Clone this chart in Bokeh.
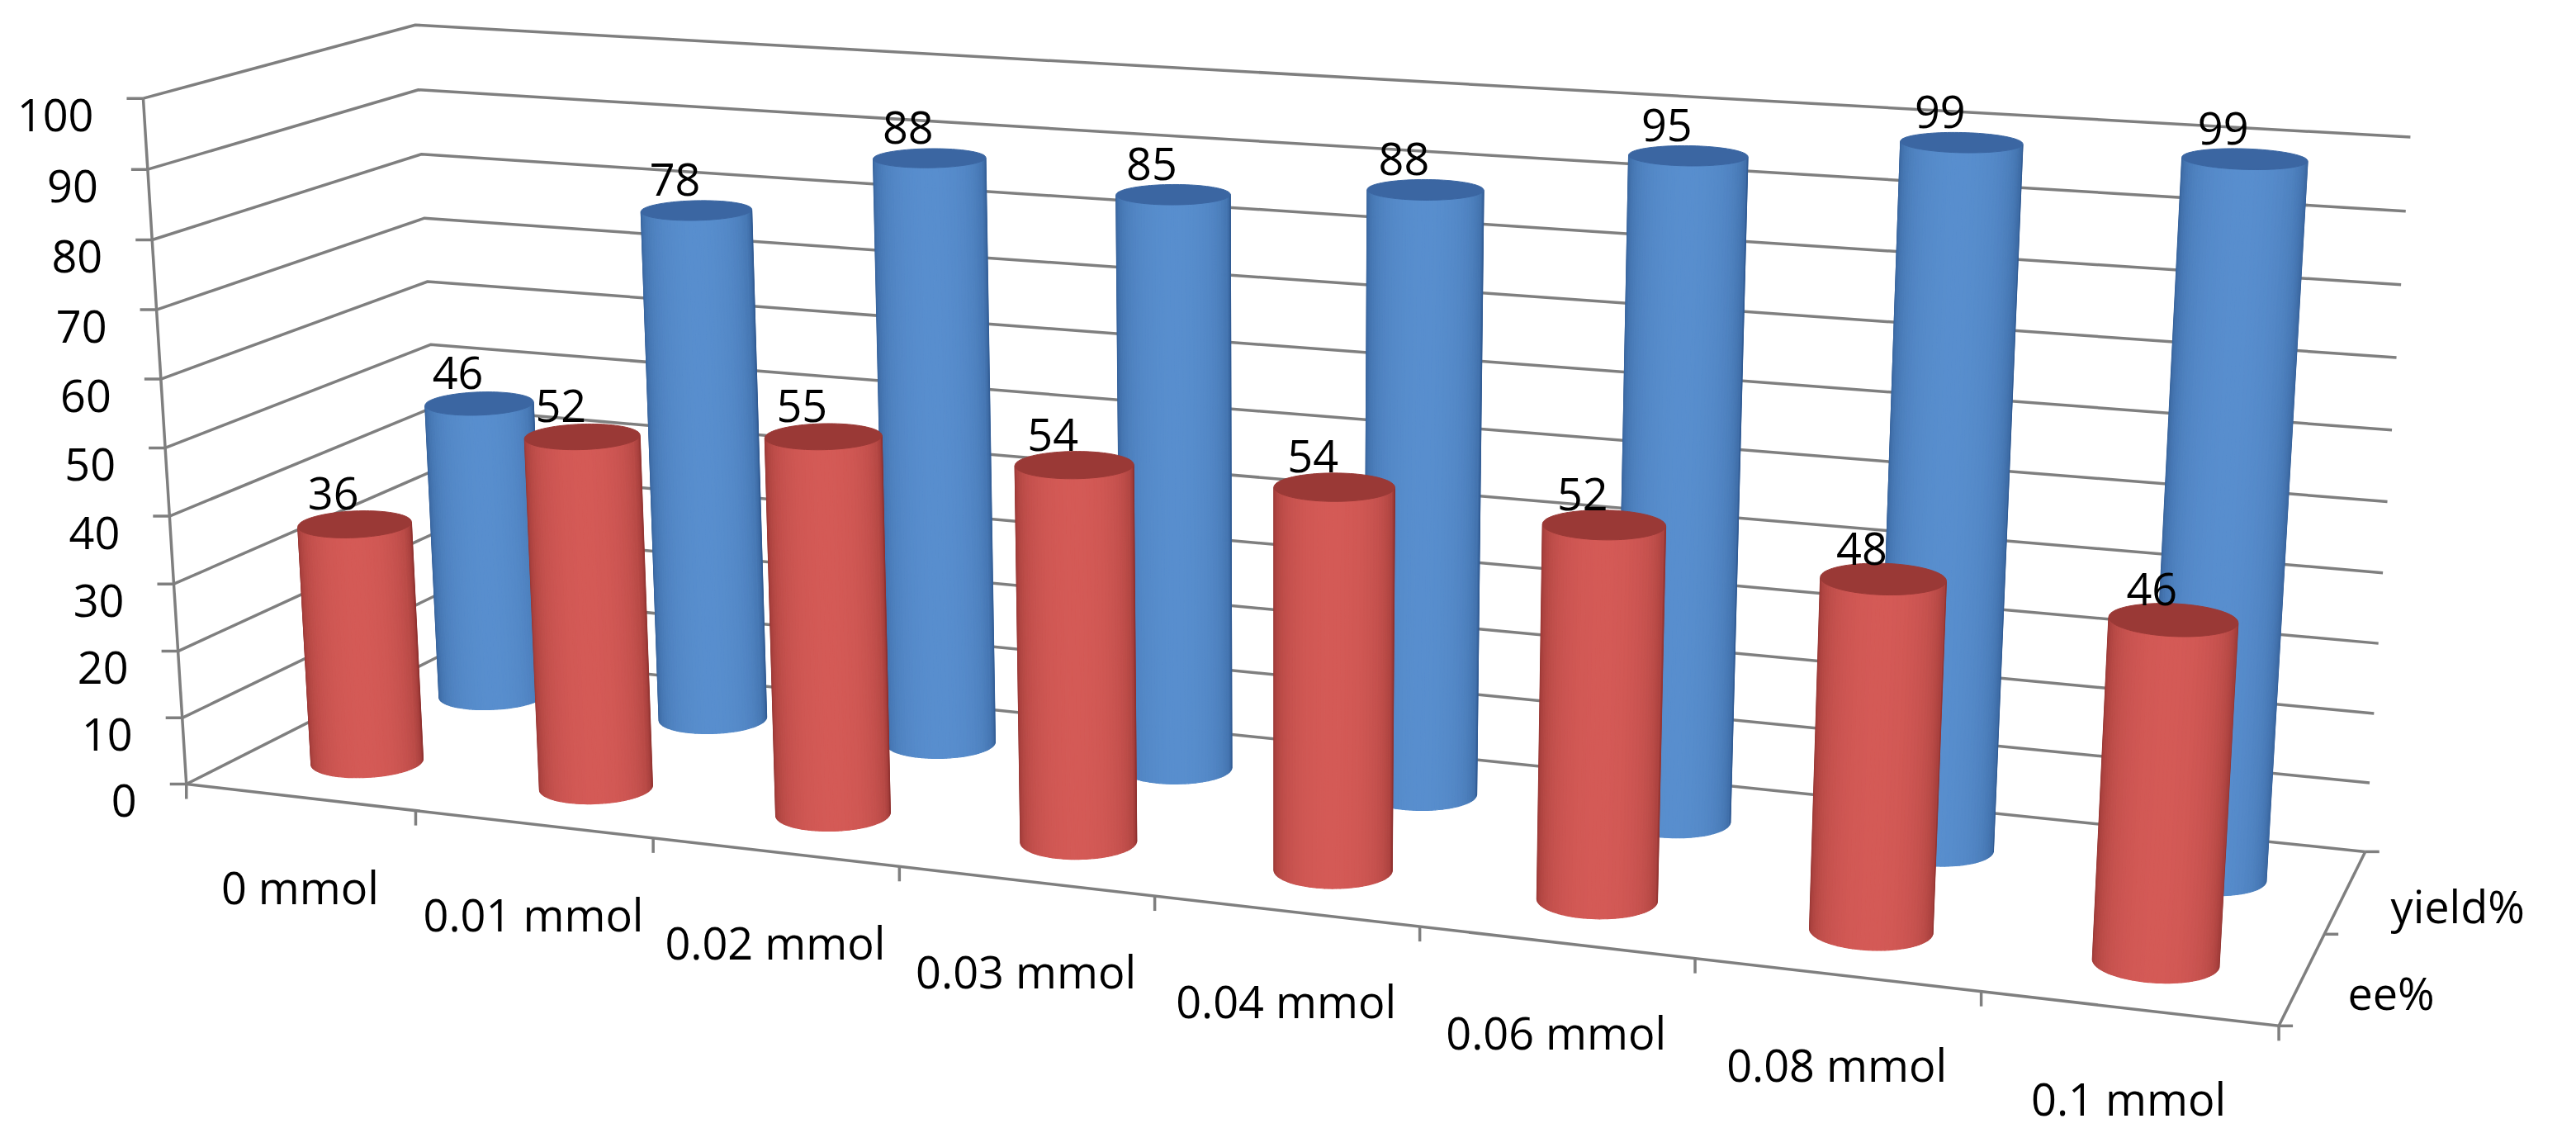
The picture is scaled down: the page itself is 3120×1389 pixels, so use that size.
import numpy as np
from bokeh.plotting import figure
from bokeh.models import Range1d
from bokeh.embed import file_html
from bokeh.resources import INLINE
from bokeh.core.properties import value

# ---------------- data ----------------
categories = ["0 mmol", "0.01 mmol", "0.02 mmol", "0.03 mmol",
              "0.04 mmol", "0.06 mmol", "0.08 mmol", "0.1 mmol"]
series_names = ["ee%", "yield%"]
ee_values = [36, 52, 55, 54, 54, 52, 48, 46]
yield_values = [46, 78, 88, 85, 88, 95, 99, 99]
value_ticks = [0, 10, 20, 30, 40, 50, 60, 70, 80, 90, 100]

# ---------------- layout / style ----------------
# calibration of the 3-D frame: world (category, value, depth) -> page pixel
FRAME_WORLD = [(0, 0, 0), (0, 50, 0), (0, 100, 0), (0, 100, 2), (0, 80, 2),
               (0, 50, 2), (8, 100, 2), (8, 50, 2), (8, 0, 2), (8, 0, 1),
               (8, 0, 0), (1, 0, 0), (4, 0, 0), (5, 0, 0), (7, 0, 0)]
FRAME_PIXEL = [(234, 955), (210, 547), (181, 127), (509, 38), (518, 194),
               (527, 426), (2928, 174), (2900, 615), (2874, 1038), (2823, 1137),
               (2766, 1251), (513, 992), (1405, 1094), (1726, 1130), (2405, 1208)]
N_CAT = len(categories)
DEPTH = 2.0
RADIUS = 0.215
NSEG = 96
FONT = "Open Sans"
FS = "54px"
LINE_COLOR = "#7f7f7f"
LINE_W = 3.5
SERIES_STYLE = {
    "ee%": dict(light=(212, 90, 86), dark=(130, 42, 40), cap="#9a3936", z=0.5),
    "yield%": dict(light=(88, 142, 206), dark=(42, 82, 136), cap="#3b66a2", z=1.5),
}


def fit_camera(world, pix):
    W = np.asarray(world, float)
    Q = np.asarray(pix, float)
    mw, sw = W.mean(0), W.std(0)
    mq, sq = Q.mean(0), Q.std(0)
    Wn = (W - mw) / sw
    Qn = (Q - mq) / sq
    rows = []
    for (X, Y, Z), (u, v) in zip(Wn, Qn):
        rows.append([X, Y, Z, 1, 0, 0, 0, 0, -u * X, -u * Y, -u * Z, -u])
        rows.append([0, 0, 0, 0, X, Y, Z, 1, -v * X, -v * Y, -v * Z, -v])
    _, _, Vt = np.linalg.svd(np.array(rows))
    Pn = Vt[-1].reshape(3, 4)
    U = np.eye(4)
    U[:3, :3] = np.diag(1 / sw)
    U[:3, 3] = -mw / sw
    T = np.array([[1 / sq[0], 0, -mq[0] / sq[0]],
                  [0, 1 / sq[1], -mq[1] / sq[1]],
                  [0, 0, 1]])
    return np.linalg.inv(T) @ Pn @ U


P = fit_camera(FRAME_WORLD, FRAME_PIXEL)


def proj(X, Y, Z):
    X, Y, Z = np.broadcast_arrays(np.asarray(X, float), np.asarray(Y, float),
                                  np.asarray(Z, float))
    h = P @ np.vstack([X.ravel(), Y.ravel(), Z.ravel(), np.ones(X.size)])
    return (h[0] / h[2]).reshape(X.shape), (h[1] / h[2]).reshape(X.shape)


W_PX, H_PX = 3104, 1373
p = figure(width=W_PX, height=H_PX, x_range=Range1d(8, 8 + W_PX),
           y_range=Range1d(8 + H_PX, 8), output_backend="svg",
           toolbar_location=None, min_border=0, x_axis_type=None,
           y_axis_type=None, outline_line_color=None,
           background_fill_color="white", border_fill_color="white")
p.grid.visible = False

# ---------------- wall gridlines ----------------
gx, gy = [], []
for v in value_ticks:
    x, y = proj([0, 0, N_CAT], [v, v, v], [0, DEPTH, DEPTH])
    gx.append(list(x)); gy.append(list(y))
p.multi_line(gx, gy, line_color=LINE_COLOR, line_width=LINE_W)

# ---------------- axes and ticks ----------------
ax_x, ax_y = [], []
for a, b in [((0, 0, 0), (0, 100, 0)), ((0, 0, 0), (N_CAT, 0, 0)),
             ((N_CAT, 0, 0), (N_CAT, 0, DEPTH))]:
    x, y = proj([a[0], b[0]], [a[1], b[1]], [a[2], b[2]])
    ax_x.append(list(x)); ax_y.append(list(y))
for v in value_ticks:
    x, y = proj(0, v, 0)
    ax_x.append([float(x) - 20, float(x)]); ax_y.append([float(y), float(y)])
for k in range(N_CAT + 1):
    x, y = proj(k, 0, 0)
    ax_x.append([float(x), float(x)]); ax_y.append([float(y), float(y) + 18])
for zt in [0, 1, 2]:
    x, y = proj(N_CAT, 0, zt)
    ax_x.append([float(x), float(x) + 17]); ax_y.append([float(y), float(y)])
p.multi_line(ax_x, ax_y, line_color=LINE_COLOR, line_width=LINE_W)


# ---------------- cylinders ----------------
def mix(c1, c2, t):
    return "#%02x%02x%02x" % tuple(int(round(a + (b - a) * t)) for a, b in zip(c1, c2))


def shoelace(xs, ys):
    return 0.5 * np.sum(xs * np.roll(ys, -1) - np.roll(xs, -1) * ys)


theta = np.linspace(0, 2 * np.pi, NSEG + 1)


def cylinder_row(sname, vals):
    st = SERIES_STYLE[sname]
    zc = st["z"]
    sx, sy, sc, cx_, cy_ = [], [], [], [], []
    for i, h in enumerate(vals):
        xc = i + 0.5
        px = xc + RADIUS * np.cos(theta)
        pz = zc + RADIUS * np.sin(theta)
        bx, by = proj(px, 0 * px, pz)
        tx, ty = proj(px, 0 * px + h, pz)
        quads, areas, mids = [], [], []
        for k in range(NSEG):
            qx = np.array([bx[k], bx[k + 1], tx[k + 1], tx[k]])
            qy = np.array([by[k], by[k + 1], ty[k + 1], ty[k]])
            quads.append((qx, qy))
            areas.append(shoelace(qx, qy))
            mids.append(0.5 * (theta[k] + theta[k + 1]))
        areas = np.array(areas)
        mids = np.array(mids)
        kref = int(np.argmin(np.abs(mids - 1.5 * np.pi)))
        vis = np.sign(areas) == np.sign(areas[kref])
        vm = mids[vis]
        th0 = np.arctan2(np.sin(vm).mean(), np.cos(vm).mean())
        for k in np.where(vis)[0]:
            phi = np.angle(np.exp(1j * (mids[k] - th0)))
            b = max(np.cos(phi), 0.0) ** 0.55
            qx, qy = quads[k]
            sx.append(list(qx)); sy.append(list(qy))
            sc.append(mix(st["dark"], st["light"], b))
        cx_.append(list(tx)); cy_.append(list(ty))
    p.patches(xs=sx, ys=sy, fill_color=sc, line_color=sc, line_width=1.2)
    p.patches(xs=cx_, ys=cy_, fill_color=st["cap"], line_color=st["cap"], line_width=1)


cylinder_row("yield%", yield_values)   # back row first
cylinder_row("ee%", ee_values)         # front row

# ---------------- texts ----------------
txt = dict(text_font=value(FONT), text_font_size=FS, text_color="#000000",
           text_baseline="alphabetic")

vx, vy, vt = [], [], []
for v in value_ticks:
    x, y = proj(0, v, 0)
    vx.append(float(x) - 60); vy.append(float(y) + 20); vt.append(str(v))
p.text(vx, vy, text=vt, text_align="right", **txt)

cx_, cy_ = [], []
for i, c in enumerate(categories):
    x, y = proj(i + 0.5, 0, 0)
    cx_.append(float(x)); cy_.append(float(y) + 109)
p.text(cx_, cy_, text=categories, text_align="center", **txt)

sx, sy = [], []
for s in series_names:
    x, y = proj(N_CAT, 0, SERIES_STYLE[s]["z"])
    sx.append(float(x) + 55); sy.append(float(y) + 17)
p.text(sx, sy, text=series_names, text_align="left", **txt)

lx, ly, lt = [], [], []
for sname, vals in [("yield%", yield_values), ("ee%", ee_values)]:
    zc = SERIES_STYLE[sname]["z"]
    for i, h in enumerate(vals):
        x, y = proj(i + 0.5, h, zc)
        lx.append(float(x) - 26); ly.append(float(y) - 37); lt.append(str(h))
p.text(lx, ly, text=lt, text_align="center", **txt)

open("out.html", "w").write(file_html(p, INLINE))
